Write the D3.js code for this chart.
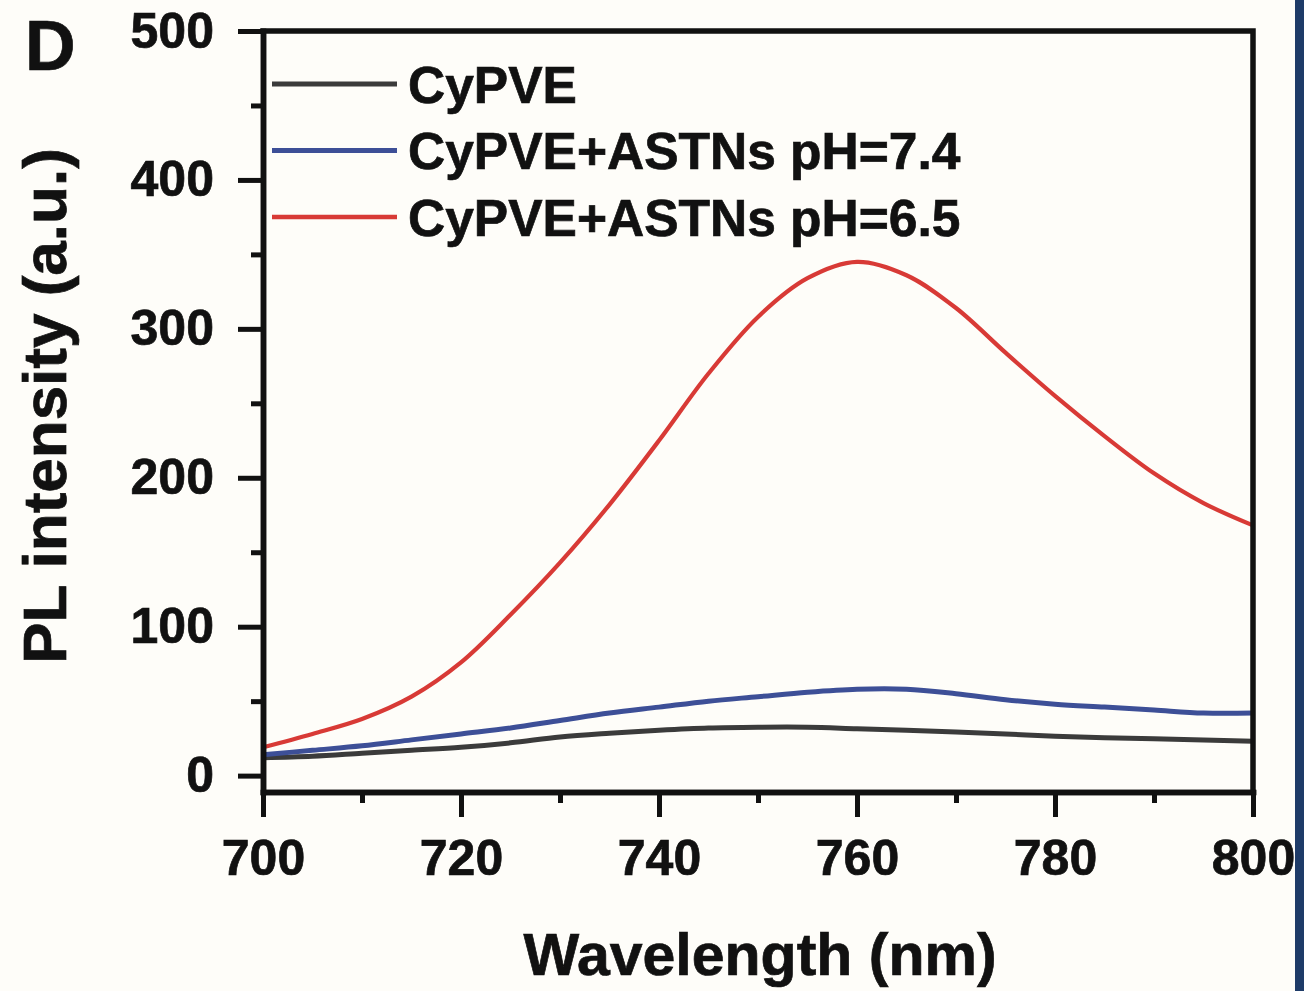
<!DOCTYPE html>
<html>
<head>
<meta charset="utf-8">
<script src="https://cdn.jsdelivr.net/npm/d3@7"></script>
<style>
  html, body { margin: 0; padding: 0; background: #fefdf9; }
  svg text { font-family: "Liberation Sans", Arial, Helvetica, sans-serif; font-weight: bold; fill: #111; stroke: #111; stroke-width: 0.7px; }
</style>
</head>
<body>
<div id="chart"></div>
<script>
// wavelength (nm)
const wavelength = [700, 705, 710, 715, 720, 725, 730, 735, 740, 745, 750,
  755, 760, 765, 770, 775, 780, 785, 790, 795, 800];

// PL intensity (a.u.)
const cypve = [12, 13, 15, 17, 19, 22, 26, 28.5, 30.5, 32, 32.5,
  32.5, 31.5, 30.5, 29.3, 28, 26.5, 25.5, 24.8, 24, 23];
const cypveAstns74 = [14, 17, 20, 24, 28, 32, 37, 42, 46, 50, 53,
  56, 58, 58, 55, 51, 48, 46, 44, 42, 42];
const cypveAstns65 = [19, 28, 38, 53, 76, 108, 143, 182, 225, 270, 308,
  334, 345, 336, 314, 284, 255, 228, 203, 183, 168];

const seriesNames = ["CyPVE", "CyPVE+ASTNs pH=7.4", "CyPVE+ASTNs pH=6.5"];
const seriesColours = ["#3b3b3b", "#3d4f97", "#d83a36"];

const xMajor = [700, 720, 740, 760, 780, 800];
const xMinor = [710, 730, 750, 770, 790];
const yMajor = [0, 100, 200, 300, 400, 500];
const yMinor = [50, 150, 250, 350, 450];

const series = [cypve, cypveAstns74, cypveAstns65].map((vals, i) => ({
  name: seriesNames[i],
  colour: seriesColours[i],
  values: vals.map((v, j) => ({ x: wavelength[j], y: v }))
}));

const width = 1304,
  height = 991,
  margin = { top: 31, right: 51, bottom: 199, left: 263 },
  chartWidth = width - margin.left - margin.right,
  chartHeight = height - margin.top - margin.bottom;

const svg = d3
  .select("#chart")
  .append("svg")
  .attr("width", width)
  .attr("height", height);

svg.append("rect").attr("width", width).attr("height", height).attr("fill", "#fefdf9");

// dark strip on the right edge
svg.append("rect")
  .attr("x", 1295).attr("y", 0)
  .attr("width", 9).attr("height", height)
  .attr("fill", "#1e3b68");

const chart = svg
  .append("g")
  .attr("transform", `translate(${margin.left}, ${margin.top})`);

const xScale = d3.scaleLinear().domain([700, 800]).range([0, chartWidth]);
const yScale = d3.scaleLinear().domain([-11, 500]).range([chartHeight, 0]);

const line = d3
  .line()
  .x(d => xScale(d.x))
  .y(d => yScale(d.y))
  .curve(d3.curveCatmullRom);

// curves
chart
  .selectAll(".curve")
  .data(series)
  .enter()
  .append("path")
  .attr("class", "curve")
  .attr("fill", "none")
  .attr("stroke", d => d.colour)
  .attr("stroke-width", (d, i) => (i === 2 ? 4.2 : 5))
  .attr("stroke-linejoin", "round")
  .attr("d", d => line(d.values));

// axes
const styleAxis = g => {
  g.selectAll(".domain").attr("stroke", "#111").attr("stroke-width", 5.5).attr("stroke-linecap", "square");
  g.selectAll(".tick line").attr("stroke", "#111").attr("stroke-width", 5);
  g.selectAll(".tick text").style("font-size", "50px").attr("fill", "#111");
};

chart.append("g")
  .attr("transform", `translate(0, ${chartHeight})`)
  .call(d3.axisBottom(xScale).tickValues(xMinor).tickSize(11).tickFormat("").tickSizeOuter(0))
  .call(styleAxis);

chart.append("g")
  .attr("transform", `translate(0, ${chartHeight})`)
  .call(d3.axisBottom(xScale).tickValues(xMajor).tickSize(25).tickPadding(22).tickSizeOuter(0))
  .call(styleAxis);

chart.append("g")
  .call(d3.axisLeft(yScale).tickValues(yMinor).tickSize(12).tickFormat("").tickSizeOuter(0))
  .call(styleAxis);

chart.append("g")
  .call(d3.axisLeft(yScale).tickValues(yMajor).tickSize(25).tickPadding(24).tickSizeOuter(0))
  .call(styleAxis);

// top and right frame
chart.append("path")
  .attr("d", `M0,${yScale(500)}H${chartWidth}V${chartHeight}`)
  .attr("fill", "none")
  .attr("stroke", "#111")
  .attr("stroke-width", 5.5)
  .attr("stroke-linecap", "square");

// legend
const legend = chart
  .selectAll(".legend")
  .data(series)
  .enter()
  .append("g")
  .attr("class", "legend")
  .attr("transform", (d, i) => `translate(9, ${53 + i * 66.5})`);

legend.append("line")
  .attr("x1", 0).attr("x2", 125)
  .attr("stroke", d => d.colour)
  .attr("stroke-width", (d, i) => (i === 2 ? 4.4 : 4.8));

legend.append("text")
  .attr("x", 136)
  .attr("dy", "0.36em")
  .style("font-size", "51.5px")
  .text(d => d.name);

// axis titles
svg.append("text")
  .attr("x", 760)
  .attr("y", 975)
  .attr("text-anchor", "middle")
  .style("font-size", "59px")
  .text("Wavelength (nm)");

svg.append("text")
  .attr("transform", `translate(66, 406) rotate(-90)`)
  .attr("text-anchor", "middle")
  .style("font-size", "62px")
  .text("PL intensity (a.u.)");

// panel letter
svg.append("text")
  .attr("x", 25)
  .attr("y", 70)
  .style("font-size", "70px")
  .text("D");
</script>
</body>
</html>
